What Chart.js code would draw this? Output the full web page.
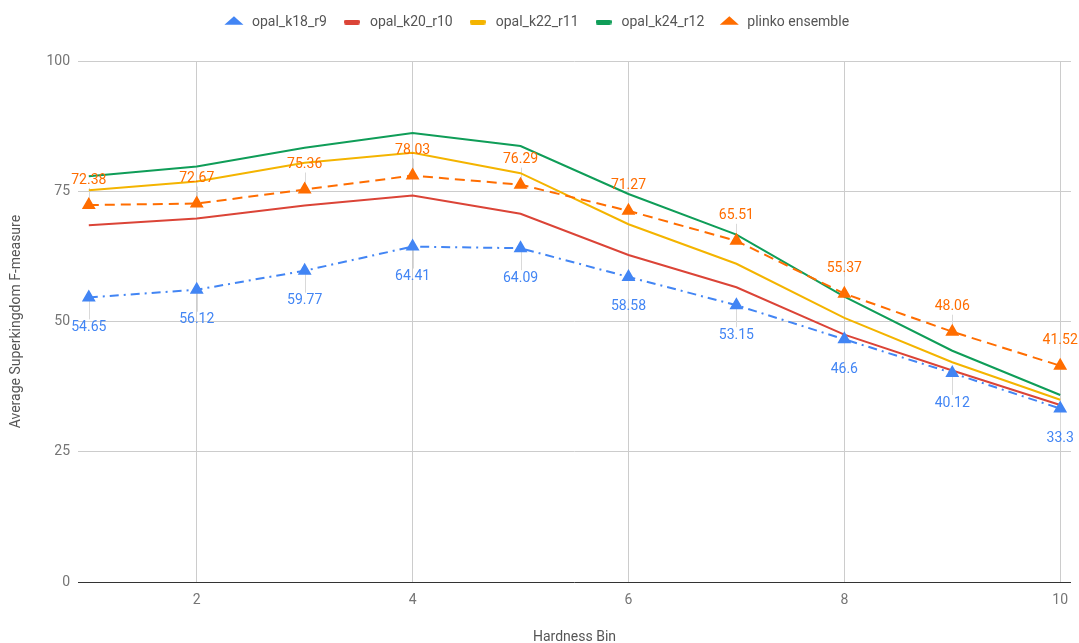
<!DOCTYPE html>
<html>
<head>
<meta charset="utf-8">
<script src="https://cdn.jsdelivr.net/npm/chart.js@4/dist/chart.umd.min.js"></script>
<style>
  html, body { margin: 0; padding: 0; background: #fff; }
  #wrap { width: 1079px; height: 643px; position: relative; }
</style>
</head>
<body>
<div id="wrap"><canvas id="c" width="1079" height="643"></canvas></div>
<script>
// Hardness bins and per-bin F-measure for each classifier
const bins = [1, 2, 3, 4, 5, 6, 7, 8, 9, 10];
const opalK18R9 = [54.65, 56.12, 59.77, 64.41, 64.09, 58.58, 53.15, 46.6, 40.12, 33.3];
const opalK20R10 = [68.5, 69.8, 72.3, 74.2, 70.7, 62.8, 56.6, 47.5, 40.6, 34.0];
const opalK22R11 = [75.2, 76.9, 80.5, 82.4, 78.5, 68.7, 61.1, 50.7, 42.2, 35.0];
const opalK24R12 = [77.9, 79.8, 83.4, 86.2, 83.7, 74.5, 66.7, 54.8, 44.4, 35.9];
const plinko = [72.38, 72.67, 75.36, 78.03, 76.29, 71.27, 65.51, 55.37, 48.06, 41.52];
const xTicks = [2, 4, 6, 8, 10];
const yTicks = [0, 25, 50, 75, 100];

const FONT = "Roboto, 'Noto Sans', sans-serif";
const FS = 14;

function pts(values) {
  return bins.map((b, i) => ({ x: b, y: values[i] }));
}

// small rounded swatch used as the legend marker of plain line series
function swatch(color) {
  const w = 16, h = 5, r = 2;
  const c = document.createElement('canvas');
  c.width = w; c.height = h;
  const g = c.getContext('2d');
  g.fillStyle = color;
  g.beginPath();
  g.moveTo(r, 0); g.lineTo(w - r, 0); g.quadraticCurveTo(w, 0, w, r);
  g.lineTo(w, h - r); g.quadraticCurveTo(w, h, w - r, h);
  g.lineTo(r, h); g.quadraticCurveTo(0, h, 0, h - r);
  g.lineTo(0, r); g.quadraticCurveTo(0, 0, r, 0);
  g.fill();
  return c;
}

const datasets = [
  {
    label: 'opal_k18_r9', data: pts(opalK18R9),
    borderColor: '#4285F4', backgroundColor: '#4285F4',
    borderWidth: 2, borderDash: [9, 5, 2, 5],
    pointStyle: 'triangle', pointRadius: 6, pointHoverRadius: 6,
    valueLabels: 'below', order: 1
  },
  {
    label: 'opal_k20_r10', data: pts(opalK20R10),
    borderColor: '#DB4437', backgroundColor: '#DB4437',
    borderWidth: 2, pointRadius: 0, legendSwatch: true, order: 4
  },
  {
    label: 'opal_k22_r11', data: pts(opalK22R11),
    borderColor: '#F4B400', backgroundColor: '#F4B400',
    borderWidth: 2, pointRadius: 0, legendSwatch: true, order: 3
  },
  {
    label: 'opal_k24_r12', data: pts(opalK24R12),
    borderColor: '#0F9D58', backgroundColor: '#0F9D58',
    borderWidth: 2, pointRadius: 0, legendSwatch: true, order: 2
  },
  {
    label: 'plinko ensemble', data: pts(plinko),
    borderColor: '#FF6D00', backgroundColor: '#FF6D00',
    borderWidth: 2, borderDash: [10, 6],
    pointStyle: 'triangle', pointRadius: 6, pointHoverRadius: 6,
    valueLabels: 'above', order: 0
  }
];

// value annotations with thin leader lines
const valueLabelPlugin = {
  id: 'valueLabels',
  beforeDatasetsDraw(chart) {
    const ctx = chart.ctx;
    ctx.save();
    ctx.strokeStyle = '#d9d9d9';
    ctx.lineWidth = 1;
    chart.data.datasets.forEach((ds, di) => {
      if (!ds.valueLabels) return;
      const meta = chart.getDatasetMeta(di);
      meta.data.forEach((p) => {
        const x = Math.round(p.x) + 0.5;
        ctx.beginPath();
        if (ds.valueLabels === 'above') {
          ctx.moveTo(x, p.y); ctx.lineTo(x, p.y - 17);
        } else {
          ctx.moveTo(x, p.y); ctx.lineTo(x, p.y + 22);
        }
        ctx.stroke();
      });
    });
    ctx.restore();
  },
  afterDatasetsDraw(chart) {
    const ctx = chart.ctx;
    ctx.save();
    ctx.font = FS + 'px ' + FONT;
    ctx.textAlign = 'center';
    ctx.textBaseline = 'middle';
    chart.data.datasets.forEach((ds, di) => {
      if (!ds.valueLabels) return;
      const meta = chart.getDatasetMeta(di);
      ctx.fillStyle = ds.borderColor;
      meta.data.forEach((p, i) => {
        const v = ds.data[i].y;
        const y = ds.valueLabels === 'above' ? p.y - 25 : p.y + 30;
        ctx.fillText(String(v), p.x, y);
      });
    });
    ctx.restore();
  }
};

new Chart(document.getElementById('c'), {
  type: 'line',
  data: { datasets },
  plugins: [valueLabelPlugin],
  options: {
    responsive: false,
    animation: false,
    layout: { padding: { left: 0, right: 7, top: 1, bottom: 0 } },
    plugins: {
      tooltip: { enabled: false },
      // blank spacer between the legend and the plot
      subtitle: {
        display: true,
        text: ' ',
        position: 'top',
        weight: 500,
        font: { size: 1 },
        padding: { top: 0, bottom: 21 }
      },
      legend: {
        position: 'top',
        align: 'center',
        labels: {
          font: { family: FONT, size: FS },
          color: '#555',
          usePointStyle: true,
          boxHeight: 8,
          pointStyleWidth: 22,
          padding: 14,
          generateLabels(chart) {
            return chart.data.datasets.map((ds, i) => ({
              text: ds.label,
              fillStyle: ds.backgroundColor,
              strokeStyle: ds.borderColor,
              lineWidth: 0,
              pointStyle: ds.legendSwatch ? swatch(ds.borderColor) : 'triangle',
              hidden: false,
              datasetIndex: i,
              fontColor: '#555'
            }));
          }
        }
      }
    },
    scales: {
      x: {
        type: 'linear',
        min: 0.9,
        max: 10.1,
        afterBuildTicks(scale) { scale.ticks = xTicks.map(v => ({ value: v })); },
        afterFit(scale) { scale.height = 61; },
        grid: { color: '#cccccc', drawTicks: false, lineWidth: 1 },
        border: { display: false },
        ticks: {
          padding: 10,
          color: '#757575',
          font: { family: FONT, size: FS },
          maxRotation: 0,
          autoSkip: false
        },
        title: {
          display: true,
          text: 'Hardness Bin',
          color: '#555',
          font: { family: FONT, size: FS },
          padding: { top: 0, bottom: -3 }
        }
      },
      y: {
        min: 0,
        max: 100,
        afterBuildTicks(scale) { scale.ticks = yTicks.map(v => ({ value: v })); },
        afterFit(scale) { scale.width = 78; },
        grid: {
          color: (c) => (c.tick && c.tick.value === 0 ? '#333333' : '#cccccc'),
          drawTicks: false,
          lineWidth: 1
        },
        border: { display: false },
        ticks: {
          padding: 8,
          color: '#757575',
          font: { family: FONT, size: FS }
        },
        title: {
          display: true,
          text: 'Average Superkingdom F-measure',
          color: '#555',
          font: { family: FONT, size: FS },
          padding: { top: 8, bottom: 0 }
        }
      }
    }
  }
});
</script>
</body>
</html>
